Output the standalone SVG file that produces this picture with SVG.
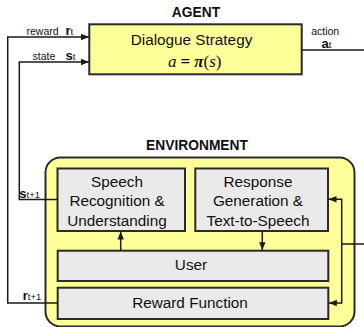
<svg xmlns="http://www.w3.org/2000/svg" width="364" height="327" viewBox="0 0 364 327">
  <style>
    .sans { font-family: "Liberation Sans", Arial, sans-serif; fill: #111; }
    .title { font-family: "Liberation Sans", Arial, sans-serif; font-weight: bold; font-size: 13.8px; fill: #111; text-anchor: middle; }
    .box-text { font-family: "Liberation Sans", Arial, sans-serif; font-size: 15.3px; fill: #111; text-anchor: middle; }
    .lbl { font-family: "Liberation Sans", Arial, sans-serif; font-size: 10.5px; fill: #111; }
    .sym { font-family: "Liberation Sans", Arial, sans-serif; font-weight: bold; font-size: 13px; fill: #111; }
    .sub { font-family: "Liberation Sans", Arial, sans-serif; font-weight: normal; font-size: 9.5px; fill: #111; }
    .agent-box { fill: #FFFF99; stroke: #2a2a2a; stroke-width: 2; }
    .env-box { fill: #FFFF99; stroke: #2a2a2a; stroke-width: 2; }
    .module { fill: #EAEAEA; stroke: #2a2a2a; stroke-width: 2; }
    .wire { fill: none; stroke: #1a1a1a; stroke-width: 1.5; }
  </style>
  <defs>
    <marker id="arrow" viewBox="0 0 8 8" refX="8" refY="4" markerWidth="8" markerHeight="8" markerUnits="userSpaceOnUse" orient="auto">
      <path d="M0,0.8 L8,4 L0,7.2 Z" fill="#1a1a1a"/>
    </marker>
  </defs>

  <rect width="364" height="327" fill="#ffffff"/>

  <!-- Agent -->
  <g id="agent">
    <text class="title" x="196" y="16.5">AGENT</text>
    <rect class="agent-box" x="89.3" y="24.3" width="212.4" height="50"/>
    <text class="box-text" x="191.5" y="45">Dialogue Strategy</text>
    <text x="168" y="66.7" font-family="'Liberation Serif', 'Times New Roman', serif" font-size="17" fill="#111"><tspan font-style="italic">a</tspan><tspan dx="4" font-weight="bold">=</tspan><tspan dx="4" font-weight="bold" font-style="italic">π</tspan><tspan>(</tspan><tspan font-style="italic">s</tspan><tspan>)</tspan></text>
  </g>

  <!-- Environment -->
  <g id="environment">
    <text class="title" x="197" y="150">ENVIRONMENT</text>
    <rect class="env-box" x="45.5" y="157.5" width="309" height="169" rx="15" ry="15"/>
  </g>

  <g id="speech-recognition">
    <rect class="module" x="57.5" y="168.5" width="127.5" height="62.5"/>
    <text class="box-text" x="117" y="186.7">Speech</text>
    <text class="box-text" x="117" y="206.4">Recognition &amp;</text>
    <text class="box-text" x="117" y="225.8">Understanding</text>
  </g>

  <g id="response-generation">
    <rect class="module" x="195.3" y="168.5" width="132.7" height="62.5"/>
    <text class="box-text" x="258" y="186.7">Response</text>
    <text class="box-text" x="258" y="206.4">Generation &amp;</text>
    <text class="box-text" x="258" y="225.8">Text-to-Speech</text>
  </g>

  <g id="user">
    <rect class="module" x="57.7" y="250.7" width="270.6" height="30.3"/>
    <text class="box-text" x="191" y="269.7">User</text>
  </g>

  <g id="reward-function">
    <rect class="module" x="57.7" y="287.7" width="270.6" height="31.3"/>
    <text class="box-text" x="190" y="308">Reward Function</text>
  </g>

  <!-- Connectors -->
  <g id="connectors">
    <!-- reward r_t into the agent -->
    <path class="wire" d="M57.7,303 H7.7 V37 H89" marker-end="url(#arrow)"/>
    <!-- state s_t into the agent -->
    <path class="wire" d="M57.5,199.5 H19.3 V62 H89" marker-end="url(#arrow)"/>
    <!-- action a_t out of the agent -->
    <path class="wire" d="M301.7,50 H364"/>
    <!-- action routed into the environment -->
    <path class="wire" d="M364,244 H341.7"/>
    <path class="wire" d="M341.7,244 V199.3 H328.5" marker-end="url(#arrow)"/>
    <path class="wire" d="M341.7,244 V303 H328.8" marker-end="url(#arrow)"/>
    <!-- user to recognition -->
    <path class="wire" d="M120.7,250.7 V231.6" marker-end="url(#arrow)"/>
    <!-- response generation to user -->
    <path class="wire" d="M262.3,231 V250.2" marker-end="url(#arrow)"/>
  </g>

  <!-- Signal labels -->
  <g id="labels">
    <text class="lbl" x="26.5" y="34.8">reward</text>
    <text class="sym" x="65.5" y="34.8">r<tspan class="sub">t</tspan></text>
    <text class="lbl" x="32.6" y="60">state</text>
    <text class="sym" x="65.5" y="60">s<tspan class="sub">t</tspan></text>
    <text class="lbl" x="311.2" y="35">action</text>
    <text class="sym" x="321.6" y="48.3">a<tspan class="sub">t</tspan></text>
    <text class="sym" x="19.3" y="198.3">s<tspan class="sub">t+1</tspan></text>
    <text class="sym" x="22.8" y="300.3">r<tspan class="sub">t+1</tspan></text>
  </g>
</svg>
